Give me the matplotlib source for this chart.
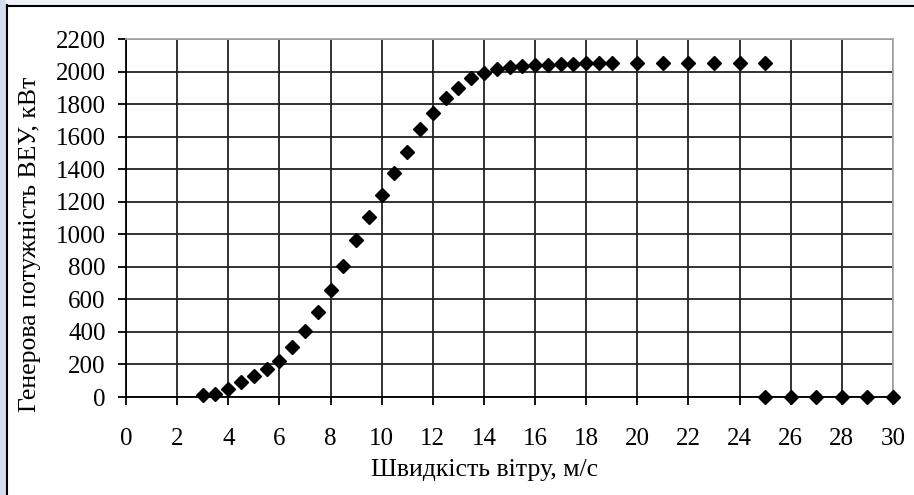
import matplotlib.pyplot as plt
from matplotlib.patches import Rectangle
from matplotlib.lines import Line2D

# wind speed, m/s
speed = [3, 3.5, 4, 4.5, 5, 5.5, 6, 6.5, 7, 7.5, 8, 8.5, 9, 9.5, 10, 10.5,
         11, 11.5, 12, 12.5, 13, 13.5, 14, 14.5, 15, 15.5, 16, 16.5, 17,
         17.5, 18, 18.5, 19, 20, 21, 22, 23, 24, 25,
         25, 26, 27, 28, 29, 30]
# generated power, kW
power = [10, 20, 48, 90, 128, 172, 220, 308, 405, 520, 655, 805, 965, 1105,
         1240, 1375, 1505, 1645, 1745, 1835, 1900, 1960, 1990, 2015, 2030,
         2035, 2040, 2040, 2045, 2045, 2050, 2050, 2050, 2050, 2050, 2050,
         2050, 2050, 2050,
         0, 0, 0, 0, 0, 0]

x_ticks = list(range(0, 31, 2))
y_ticks = list(range(0, 2201, 200))

plt.rcParams['font.family'] = ['Liberation Serif', 'DejaVu Serif']

fig = plt.figure(figsize=(9.14, 4.95), dpi=100)
ax = fig.add_axes([126 / 914, 1 - 397 / 495, (893 - 126) / 914, (397 - 39) / 495])

ax.plot(speed, power, 'D', color='black', markersize=7.5, clip_on=False, zorder=5)

ax.set_xlim(0, 30)
ax.set_ylim(0, 2200)
ax.set_xticks(x_ticks)
ax.set_yticks(y_ticks)
ax.tick_params(axis='both', labelsize=18, direction='out', length=6, width=1.3,
               color='black')
ax.tick_params(axis='x', pad=16.5)
ax.tick_params(axis='y', pad=8.5)
ax.grid(True, color='#222222', linewidth=1.3)
ax.set_axisbelow(True)
for side in ['left', 'bottom']:
    ax.spines[side].set_color('black')
    ax.spines[side].set_linewidth(1.3)
for side in ['top', 'right']:
    ax.spines[side].set_color('#a8a8a8')
    ax.spines[side].set_linewidth(1.3)

ax.set_xlabel('Швидкість вітру, м/с', fontsize=18.5, va='center')
ax.set_ylabel('Генерова потужність ВЕУ, кВт', fontsize=18.5, va='center')
ax.xaxis.set_label_coords(0.5 - 25 / 767, -73 / 358)
ax.yaxis.set_label_coords(-96 / 767, 0.5 - 26 / 358)

# window frame around the chart
fig.patches.append(Rectangle((0, 0), 6 / 914, 1, transform=fig.transFigure,
                             color='#d3ddef', zorder=0))
fig.patches.append(Rectangle((6 / 914, 1 - 5 / 495), 1, 5 / 495,
                             transform=fig.transFigure, color='#eef2f8', zorder=0))
fig.lines.append(Line2D([6.5 / 914, 6.5 / 914], [0, 1 - 5 / 495],
                        transform=fig.transFigure, color='black', linewidth=1.5))
fig.lines.append(Line2D([6.5 / 914, 1], [1 - 5.5 / 495, 1 - 5.5 / 495],
                        transform=fig.transFigure, color='black', linewidth=1.5))

fig.savefig('out.png', dpi=100)
